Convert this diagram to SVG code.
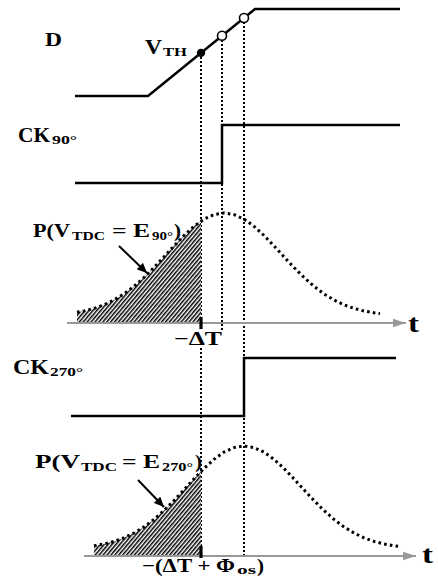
<svg xmlns="http://www.w3.org/2000/svg" width="438" height="580" viewBox="0 0 438 580">
<style>
.lbl{font-family:"Liberation Serif","DejaVu Serif",serif;font-weight:bold;fill:#000}
.wave{fill:none;stroke:#000;stroke-width:2.5;stroke-linejoin:miter}
.vdot{fill:none;stroke:#000;stroke-width:2;stroke-dasharray:2 2}
.pdf{fill:none;stroke:#000;stroke-width:3;stroke-dasharray:2.6 3.2}
.axis{fill:none;stroke:#999;stroke-width:2}
.tick{stroke:#000;stroke-width:3.2}
.ann{stroke:#000;stroke-width:2;fill:none}
</style>
<defs>
<pattern id="hatch" patternUnits="userSpaceOnUse" width="3" height="3" patternTransform="rotate(40)">
<rect width="3" height="3" fill="#fff"/>
<line x1="0.75" y1="0" x2="0.75" y2="3" stroke="#000" stroke-width="1.5"/>
</pattern>
<marker id="gray-head" markerUnits="userSpaceOnUse" markerWidth="14" markerHeight="10" refX="13" refY="5" orient="auto">
<path d="M0,0.8 L13,5 L0,9.2 Z" fill="#999"/>
</marker>
<marker id="black-head" markerUnits="userSpaceOnUse" markerWidth="11" markerHeight="9" refX="10" refY="4.5" orient="auto">
<path d="M0,0 L10,4.5 L0,9 Z" fill="#000"/>
</marker>
</defs>

<g id="connectors">
<path class="vdot" d="M201,53 V317 M201,348 V546"/>
<path class="vdot" d="M222,36 V330"/>
<path class="vdot" d="M244,18 V556"/>
<line class="ann" x1="119" y1="246" x2="147" y2="273" marker-end="url(#black-head)"/>
<line class="ann" x1="138" y1="480" x2="164" y2="507" marker-end="url(#black-head)"/>
</g>

<g id="D-waveform">
<path class="wave" d="M75,96 L148,96 L255,9 L400,9"/>
<circle cx="201" cy="52.9" r="4.2" fill="#000"/>
<circle cx="222" cy="35.8" r="4.5" fill="#fff" stroke="#000" stroke-width="1.6"/>
<circle cx="244" cy="18" r="4.5" fill="#fff" stroke="#000" stroke-width="1.6"/>
<text class="lbl" x="45" y="46" font-size="19" textLength="17" lengthAdjust="spacingAndGlyphs">D</text>
<text class="lbl" x="145" y="54" font-size="20" textLength="17" lengthAdjust="spacingAndGlyphs">V</text>
<text class="lbl" x="163" y="56" font-size="13" textLength="24" lengthAdjust="spacingAndGlyphs">TH</text>
</g>

<g id="CK90-waveform">
<path class="wave" d="M75,183 L222,183 L222,125 L400,125"/>
<text class="lbl" x="18" y="142" font-size="20" textLength="32" lengthAdjust="spacingAndGlyphs">CK</text>
<text class="lbl" x="52" y="144" font-size="13" textLength="25" lengthAdjust="spacingAndGlyphs">90°</text>
</g>

<g id="pdf-90">
<path fill="url(#hatch)" d="M77,322 L77,312.3 L84,311 L94,308.4 L104,304.8 L114,300 L124,293.9 L134,286.4 L144,277.5 L154,267.5 L164,256.8 L174,245.9 L184,235.5 L194,226.3 L201,221.1 L201,322 Z"/>
<path class="pdf" d="M77,312.3 L84,311 L94,308.4 L104,304.8 L114,300 L124,293.9 L134,286.4 L144,277.5 L154,267.5 L164,256.8 L174,245.9 L184,235.5 L194,226.3 L204,219.1 L214,214.6 L224,213 L234,214.6 L244,219.1 L254,226.3 L264,235.5 L274,245.9 L284,256.8 L294,267.5 L304,277.5 L314,286.4 L324,293.9 L334,300 L344,304.8 L354,308.4 L364,311 L374,312.8 L380,313.6"/>
<line class="axis" x1="67" y1="323" x2="406" y2="323" marker-end="url(#gray-head)"/>
<line class="tick" x1="201" y1="317" x2="201" y2="329"/>
<text class="lbl" x="408" y="332" font-size="26" textLength="11" lengthAdjust="spacingAndGlyphs">t</text>
<text class="lbl" x="174" y="345" font-size="19" textLength="48" lengthAdjust="spacingAndGlyphs">−ΔT</text>
<text class="lbl" x="33" y="237" font-size="19" textLength="37" lengthAdjust="spacingAndGlyphs">P(V</text>
<text class="lbl" x="72" y="240" font-size="13" textLength="33" lengthAdjust="spacingAndGlyphs">TDC</text>
<text class="lbl" x="112" y="237" font-size="19" textLength="38" lengthAdjust="spacingAndGlyphs">= E</text>
<text class="lbl" x="152" y="240" font-size="13" textLength="21" lengthAdjust="spacingAndGlyphs">90°</text>
<text class="lbl" x="174" y="237" font-size="19" textLength="7" lengthAdjust="spacingAndGlyphs">)</text>
</g>

<g id="CK270-waveform">
<path class="wave" d="M71,416 L244,416 L244,358 L396,358"/>
<text class="lbl" x="13" y="374" font-size="20" textLength="36" lengthAdjust="spacingAndGlyphs">CK</text>
<text class="lbl" x="50" y="376" font-size="13" textLength="33" lengthAdjust="spacingAndGlyphs">270°</text>
</g>

<g id="pdf-270">
<path fill="url(#hatch)" d="M94,555 L94,545.8 L97,545.3 L104,544 L114,541.4 L124,537.8 L134,533 L144,526.9 L154,519.4 L164,510.5 L174,500.5 L184,489.8 L194,478.9 L201,471.5 L201,555 Z"/>
<path class="pdf" d="M94,545.8 L104,544 L114,541.4 L124,537.8 L134,533 L144,526.9 L154,519.4 L164,510.5 L174,500.5 L184,489.8 L194,478.9 L204,468.5 L214,459.3 L224,452.1 L234,447.6 L244,446 L254,447.6 L264,452.1 L274,459.3 L284,468.5 L294,478.9 L304,489.8 L314,500.5 L324,510.5 L334,519.4 L344,526.9 L354,533 L364,537.8 L374,541.4 L384,544 L394,545.8 L400,546.6"/>
<line class="axis" x1="84" y1="556" x2="416" y2="556" marker-end="url(#gray-head)"/>
<line class="tick" x1="201" y1="546" x2="201" y2="558"/>
<text class="lbl" x="422" y="563" font-size="26" textLength="11" lengthAdjust="spacingAndGlyphs">t</text>
<text class="lbl" x="142" y="572" font-size="19" textLength="93" lengthAdjust="spacingAndGlyphs">−(ΔT + Φ</text>
<text class="lbl" x="237" y="574" font-size="13" textLength="19" lengthAdjust="spacingAndGlyphs">os</text>
<text class="lbl" x="257" y="572" font-size="19" textLength="7" lengthAdjust="spacingAndGlyphs">)</text>
<text class="lbl" x="35" y="468" font-size="19" textLength="45" lengthAdjust="spacingAndGlyphs">P(V</text>
<text class="lbl" x="81" y="471" font-size="13" textLength="36" lengthAdjust="spacingAndGlyphs">TDC</text>
<text class="lbl" x="122" y="468" font-size="19" textLength="38" lengthAdjust="spacingAndGlyphs">= E</text>
<text class="lbl" x="162" y="471" font-size="13" textLength="31" lengthAdjust="spacingAndGlyphs">270°</text>
<text class="lbl" x="195" y="468" font-size="19" textLength="7" lengthAdjust="spacingAndGlyphs">)</text>
</g>
</svg>
